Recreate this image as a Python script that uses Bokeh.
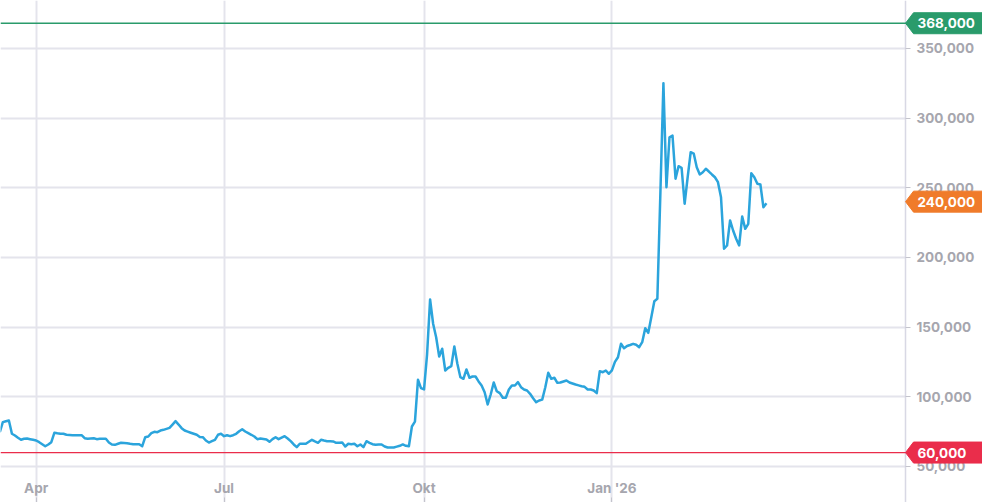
from bokeh.plotting import figure
from bokeh.models import FixedTicker, NumeralTickFormatter, Span, Label, PolyAnnotation, Range1d
from bokeh.embed import file_html
from bokeh.resources import INLINE

# trading-day index (0 = mid March 2025) and closing prices
days = list(range(0, 254))
prices = [
    74600, 81800, 82500, 83000, 73500, 72250, 70600, 69150, 69900, 70100,
    69600, 69150, 68650, 67450, 66000, 64550, 65800, 67450, 74200, 73800,
    73450, 73450, 72750, 72600, 72450, 72450, 72450, 72450, 70300, 69900,
    70100, 70300, 69600, 69900, 69900, 69900, 67200, 65800, 65550, 66300,
    67000, 66850, 66700, 66300, 66000, 66000, 66000, 64550, 71000, 71500,
    73900, 74900, 74600, 75800, 76300, 77000, 77750, 80100, 82500, 80100,
    77500, 75800, 75000, 74200, 73450, 72750, 71150, 71000, 68650, 67200,
    68200, 69150, 72750, 73450, 71750, 72450, 71750, 72450, 73450, 75300,
    76750, 75100, 73900, 72750, 71500, 69600, 70100, 69750, 69400, 67700,
    69600, 71000, 69600, 70700, 71750, 70100, 68150, 65800, 63850, 66300,
    66300, 66300, 67700, 69150, 68000, 67000, 69150, 68600, 68150, 68050,
    67950, 67000, 67100, 67200, 64350, 66300, 66000, 66300, 64550, 65800,
    63850, 68150, 67000, 66000, 65550, 65700, 65800, 64350, 63650, 63650,
    63650, 64250, 64850, 65800, 64850, 64550, 78700, 82150, 112200, 106200,
    105250, 130300, 169800, 152400, 142750, 128900, 134450, 118900, 120800, 122000,
    136100, 123700, 114050, 112900, 119600, 113650, 114550, 114550, 111000, 108100,
    103300, 94500, 101650, 110250, 104000, 102600, 99300, 99300, 105250, 108100,
    108100, 110500, 106900, 105250, 104500, 102150, 99000, 96150, 97350, 98000,
    106700, 117200, 112900, 113650, 110050, 110250, 111000, 111700, 110250, 109500,
    108800, 108200, 107600, 107150, 105250, 105250, 104500, 102600, 118400, 117650,
    118850, 116500, 119000, 125000, 128400, 138000, 134850, 136450, 137150, 138000,
    137300, 135600, 139200, 149200, 145900, 157100, 168600, 170300, 246300, 325000,
    250400, 286200, 287400, 256400, 265400, 264300, 238500, 257500, 275500, 274500,
    264700, 259500, 261100, 263600, 261600, 259500, 257500, 254000, 243200, 206200,
    208550, 226500, 219300, 213350, 208550, 229350, 220500, 224100, 260400, 257500,
    252800, 252300, 236000, 238900,
]

month_ticks = [12, 74, 140, 202]
month_labels = ["Apr", "Jul", "Okt", "Jan '26"]
price_ticks = [50000, 100000, 150000, 200000, 250000, 300000, 350000]

upper_level = 368000
current_level = 240000
lower_level = 60000

GREEN = "#2a9b6b"
ORANGE = "#f07b2a"
RED = "#ea2d4b"
LINE = "#2ba4dc"
GRID = "#e4e4ec"
LABEL_GRAY = "#a6a6ae"
FONT = "Inter"
FSIZE = "13.5px"

W, H = 982, 502
X0, X1 = 0.231, 324.3          # full frame width
X_AXIS = 298.9                  # where the price axis sits
Y0, Y1 = 24170, 384300

p = figure(width=W, height=H, output_backend="svg", toolbar_location=None,
           x_range=Range1d(X0, X1), y_range=Range1d(Y0, Y1),
           x_axis_location="above", y_axis_location="right",
           min_border_left=0, min_border_top=0, min_border_bottom=0,
           min_border_right=0)
p.outline_line_color = None
p.background_fill_color = "white"
p.border_fill_color = "white"

# grids
p.xgrid.ticker = FixedTicker(ticks=month_ticks)
p.ygrid.ticker = FixedTicker(ticks=price_ticks)
p.ygrid.cross_bounds = (X0, X_AXIS)
p.xgrid.grid_line_color = GRID
p.xgrid.grid_line_width = 2
p.ygrid.grid_line_color = GRID
p.ygrid.grid_line_width = 2

# x axis (labels inside the frame, at its bottom)
xa = p.xaxis[0]
xa.fixed_location = Y0
xa.ticker = FixedTicker(ticks=month_ticks)
xa.major_label_overrides = {t: l for t, l in zip(month_ticks, month_labels)}
xa.axis_line_color = None
xa.major_tick_in = 0
xa.major_tick_out = 5
xa.major_tick_line_color = "#c4c4cc"
xa.minor_tick_line_color = None
xa.major_label_standoff = 2
xa.major_label_text_color = LABEL_GRAY
xa.major_label_text_font = FONT
xa.major_label_text_font_style = "bold"
xa.major_label_text_font_size = FSIZE

# price axis on the right
ya = p.yaxis[0]
ya.fixed_location = X_AXIS
ya.ticker = FixedTicker(ticks=price_ticks)
ya.formatter = NumeralTickFormatter(format="0,0")
ya.axis_line_color = "#d8d8e4"
ya.axis_line_width = 1.5
ya.major_tick_in = 0
ya.major_tick_out = 5
ya.major_tick_line_color = "#c4c4cc"
ya.minor_tick_line_color = None
ya.major_label_standoff = 6
ya.major_label_text_color = LABEL_GRAY
ya.major_label_text_font = FONT
ya.major_label_text_font_style = "bold"
ya.major_label_text_font_size = FSIZE

# reference lines
p.add_layout(Span(location=upper_level, dimension="width", line_color=GREEN, line_width=1.5))
p.add_layout(Span(location=lower_level, dimension="width", line_color=RED, line_width=1.2))

# price line
p.line(days, prices, line_color=LINE, line_width=2.5, line_join="round")

# badges on the price axis
px_x = (X1 - X0) / W
px_y = (Y1 - Y0) / H


def badge(level, color):
    xs = [X_AXIS, X_AXIS + 8 * px_x, X1 + 5 * px_x, X1 + 5 * px_x, X_AXIS + 8 * px_x]
    ys = [level, level + 10.5 * px_y, level + 10.5 * px_y, level - 10.5 * px_y, level - 10.5 * px_y]
    p.add_layout(PolyAnnotation(xs=xs, ys=ys, fill_color=color, fill_alpha=1.0,
                                line_color=color, line_alpha=1.0))
    p.add_layout(Label(x=X_AXIS, y=level, x_offset=12, text=f"{level:,}",
                       text_color="white", text_font=FONT, text_font_style="bold",
                       text_font_size=FSIZE, text_baseline="middle", text_align="left"))


badge(upper_level, GREEN)
badge(current_level, ORANGE)
badge(lower_level, RED)

open("out.html", "w").write(file_html(p, INLINE))
